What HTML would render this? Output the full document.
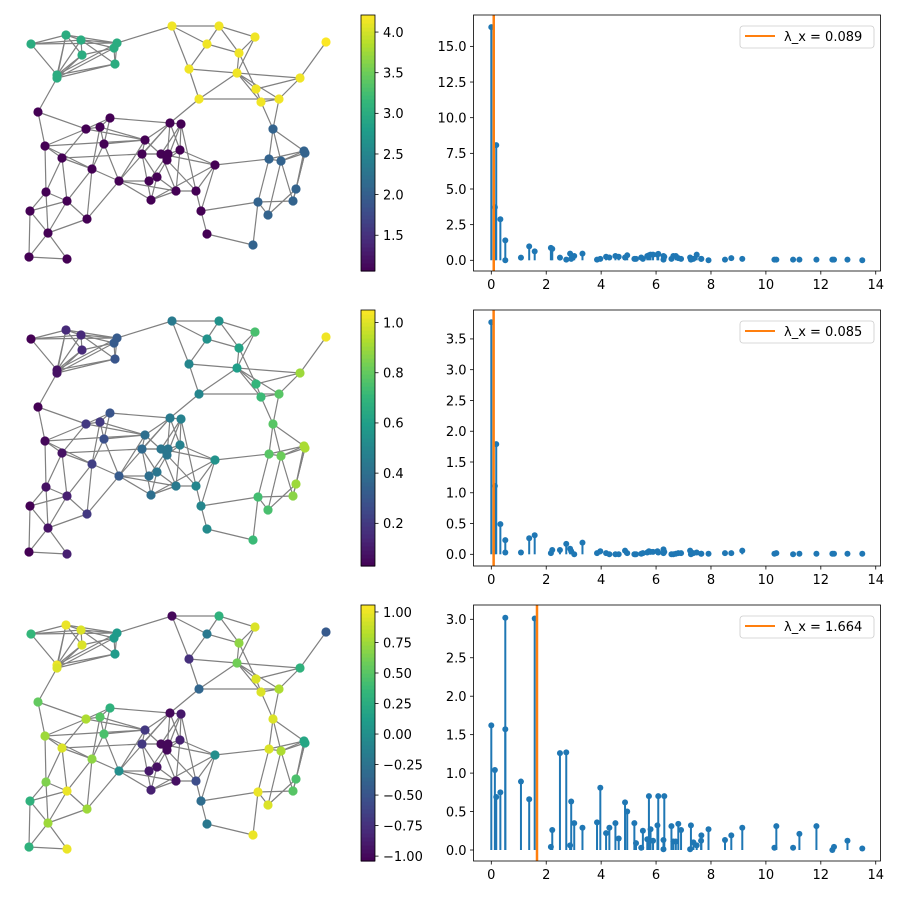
<!DOCTYPE html>
<html><head><meta charset="utf-8"><style>
body{margin:0;background:#fff}
svg text{font-family:"DejaVu Sans","Liberation Sans",sans-serif;font-size:13px;fill:#000}
</style></head><body>
<svg id="fig" width="900" height="900" xmlns="http://www.w3.org/2000/svg"></svg>
<script>
const nodeX=[31,66,81,82,117,114,115,57,57,172,219,255,207,239,326,189,237,300,256,261,279,199,273,304,305,269,281,296,293,258,268,253,38,110,86,100,170,181,45,104,145,180,142,161,168,167,62,215,92,157,149,119,176,196,46,67,151,30,201,87,48,207,29,67];
const nodeY=[44,35,40,55,43,48,64,75,78,26,26,37,44,53,42,69,73,78,89,102,99,99,129,151,153,159,161,189,201,202,215,245,112,118,129,127,123,124,146,144,140,150,154,154,154,160,158,165,169,177,181,181,191,191,192,201,200,211,211,219,233,234,257,259];
const edgeList=[[0,1],[0,2],[0,4],[0,7],[1,2],[1,3],[1,4],[1,7],[1,8],[2,3],[2,4],[2,5],[2,6],[2,7],[3,5],[3,7],[3,8],[4,6],[4,7],[5,6],[5,8],[6,7],[6,8],[4,5],[4,9],[8,32],
[9,10],[9,12],[9,15],[10,11],[10,12],[10,13],[11,13],[11,16],[12,13],[12,15],[13,16],[13,18],[15,16],[15,21],[16,17],[16,18],[16,19],[16,20],[17,14],[17,18],[17,20],[18,19],[19,20],[21,20],[21,16],[21,36],[19,22],[20,22],
[22,23],[22,25],[22,26],[23,25],[23,26],[23,27],[24,28],[25,26],[25,29],[26,28],[26,30],[27,28],[27,30],[28,29],[29,30],[29,31],[47,25],[58,29],[61,31],[24,26],[24,27],
[32,34],[32,38],[33,34],[33,36],[33,39],[33,35],[34,35],[34,38],[34,46],[34,40],[35,39],[35,40],[35,48],[36,37],[36,40],[36,41],[36,42],[36,45],[36,51],[37,41],[37,43],[37,45],[38,46],[38,48],[38,54],[38,40],[39,40],[39,48],[39,51],[40,42],[40,45],[40,51],[41,47],[41,52],[41,45],[42,43],[42,44],[42,49],[42,56],[43,44],[43,52],[43,47],[44,45],[44,50],[45,53],[45,49],[46,48],[46,54],[46,55],[46,42],[48,51],[48,55],[48,59],[49,50],[49,52],[49,56],[50,51],[51,56],[51,59],[51,52],[52,53],[52,56],[53,47],[53,58],[47,58],[47,56],[54,55],[54,57],[54,60],[55,59],[55,60],[55,57],[57,60],[57,62],[59,60],[60,62],[60,63],[62,63],[58,61],[44,41],[37,53]];
const signal1=[3,3,3,3,3,3,3,3,3,4.15,4.15,4.15,4.15,4.15,4.2,4.15,4.15,4.15,4.15,4.15,4.15,4.15,2.05,2.05,2.05,2.05,2.05,2.05,2.05,2.05,2.05,2.05,1.06,1.06,1.06,1.06,1.06,1.06,1.06,1.06,1.06,1.06,1.06,1.06,1.06,1.06,1.06,1.06,1.06,1.06,1.06,1.06,1.06,1.06,1.06,1.06,1.06,1.06,1.06,1.06,1.06,1.06,1.06,1.06];
const signal2=[0.03,0.15,0.15,0.15,0.32,0.32,0.3,0.08,0.08,0.45,0.55,0.75,0.55,0.62,1.03,0.5,0.6,0.9,0.7,0.72,0.78,0.5,0.78,0.92,0.92,0.78,0.82,0.9,0.87,0.74,0.75,0.72,0.03,0.3,0.2,0.2,0.45,0.48,0.05,0.28,0.4,0.48,0.38,0.43,0.43,0.43,0.08,0.55,0.22,0.43,0.4,0.32,0.45,0.5,0.08,0.12,0.4,0.03,0.5,0.2,0.08,0.52,0.03,0.12];
const signal3=[0.35,1,0.95,0.95,0.1,0.1,0.1,1,0.95,-1,0.3,0.95,-0.2,0.7,-0.45,-0.75,0.6,0.3,0.95,0.95,0.8,-0.35,0.95,0.2,0.2,0.95,0.8,0.45,0.5,1,0.95,1,0.55,0.3,0.8,0.5,-1,-0.9,0.75,0.45,-0.7,-0.85,-0.7,-1,-1,-1,0.95,0,0.7,-0.95,-0.9,0,-0.95,-0.55,0.65,1,-0.85,0.3,-0.3,0.75,0.75,-0.2,0.3,1];
const eigenvalues=[0,0.13,0.18,0.33,0.51,0.51,1.08,1.38,1.58,2.17,2.22,2.5,2.73,2.87,2.91,3.02,3.32,3.85,3.97,4.18,4.30,4.52,4.64,4.87,4.95,5.21,5.27,5.46,5.52,5.68,5.74,5.80,5.89,6.05,6.08,6.27,6.27,6.30,6.56,6.63,6.72,6.81,6.91,7.24,7.27,7.36,7.48,7.64,7.65,7.91,8.51,8.74,9.14,10.31,10.38,10.99,11.22,11.84,12.42,12.48,12.97,13.51];
const spectrum1=[16.35,3.72,8.08,2.88,1.4,0,0.19,0.98,0.63,0.87,0.8,0.19,0.05,0.47,0.1,0.3,0.47,0.05,0.1,0.25,0.2,0.3,0.25,0.2,0.35,0.1,0.1,0.2,0.1,0.3,0.35,0.4,0.4,0.4,0.45,0.05,0.3,0.25,0.1,0.3,0.3,0.15,0.1,0.2,0.05,0.1,0.4,0.1,0.1,0,0.05,0.15,0.1,0.05,0.05,0.05,0.05,0.05,0.05,0.05,0.05,0];
const spectrum2=[3.77,1.11,1.79,0.49,0.23,0.03,0.03,0.26,0.31,0.02,0.07,0.07,0.17,0.09,0.05,0,0.19,0.02,0.05,0.02,0,0,0,0.06,0.02,0,0,0.01,0.02,0.03,0.05,0.04,0.04,0.05,0.03,0.08,0.02,0.04,0,0,0.01,0.02,0.02,0.06,0,0.02,0.03,0.01,0.01,0.01,0.02,0.02,0.06,0.01,0.02,0,0.01,0.01,0.01,0.01,0.01,0.01];
const spectrum3=[1.62,1.04,0.69,0.75,3.02,1.57,0.89,0.66,3.01,0.04,0.26,1.26,1.27,0.06,0.63,0.35,0.29,0.36,0.81,0.22,0.29,0.35,0.15,0.62,0.5,0.35,0.09,0.03,0.25,0.14,0.7,0.27,0.12,0.32,0.7,0.01,0.13,0.7,0.31,0.11,0.11,0.34,0.26,0.01,0.32,0.1,0.06,0.12,0.19,0.27,0.13,0.19,0.29,0.03,0.31,0.03,0.21,0.31,0,0.04,0.12,0.02];
const lambdaX=[0.089,0.085,1.664];
const yTicks1=[0,2.5,5,7.5,10,12.5,15];
const yTicks2=[0,0.5,1,1.5,2,2.5,3,3.5];
const yTicks3=[0,0.5,1,1.5,2,2.5,3];
const xTicks=[0,2,4,6,8,10,12,14];
const cbTicks1=[1.5,2,2.5,3,3.5,4];
const cbTicks2=[0.2,0.4,0.6,0.8,1.0];
const cbTicks3=[-1,-0.75,-0.5,-0.25,0,0.25,0.5,0.75,1];

const NS="http://www.w3.org/2000/svg";
const fig=document.getElementById('fig');
function mk(tag,attrs,parent){const e=document.createElementNS(NS,tag);for(const k in attrs)e.setAttribute(k,attrs[k]);(parent||fig).appendChild(e);return e;}
const VIR=[[68,1,84],[72,40,120],[62,74,137],[49,104,142],[38,130,142],[31,158,137],[53,183,121],[109,205,89],[180,222,44],[253,231,37]];
function viridis(t){t=Math.max(0,Math.min(1,t));const p=t*(VIR.length-1);const i=Math.min(Math.floor(p),VIR.length-2);const f=p-i;const a=VIR[i],b=VIR[i+1];return `rgb(${Math.round(a[0]+(b[0]-a[0])*f)},${Math.round(a[1]+(b[1]-a[1])*f)},${Math.round(a[2]+(b[2]-a[2])*f)})`;}
const panels=[
 {sig:signal1,spec:spectrum1,lx:lambdaX[0],dy:0,cbMin:1.06,cbMax:4.21,cbT:cbTicks1,cbFmt:v=>v.toFixed(1),yMin:-0.75,yMax:17.2,yT:yTicks1,yFmt:v=>v.toFixed(1)},
 {sig:signal2,spec:spectrum2,lx:lambdaX[1],dy:295,cbMin:0.03,cbMax:1.05,cbT:cbTicks2,cbFmt:v=>v.toFixed(1),yMin:-0.19,yMax:3.97,yT:yTicks2,yFmt:v=>v.toFixed(1)},
 {sig:signal3,spec:spectrum3,lx:lambdaX[2],dy:590,cbMin:-1.04,cbMax:1.057,cbT:cbTicks3,cbFmt:v=>(v<0?'\u2212':'')+Math.abs(v).toFixed(2),yMin:-0.143,yMax:3.186,yT:yTicks3,yFmt:v=>v.toFixed(1)}
];
const AX_L=473.5,AX_R=880.5,X0=491.3,XU=27.46;
function xs(v){return X0+v*XU;}
panels.forEach((P,pi)=>{
  const top=15+pi*295,bot=271+pi*295;
  const g=mk('g',{});
  
  
  edgeList.forEach(e=>{
    const l=mk('line',{x1:nodeX[e[0]],y1:nodeY[e[0]]+P.dy,x2:nodeX[e[1]],y2:nodeY[e[1]]+P.dy,stroke:'#808080','stroke-width':1.2},g);
    
    
  });
  nodeX.forEach((x,i)=>{
    const c=mk('circle',{cx:x,cy:nodeY[i]+P.dy,r:4.6,fill:viridis((P.sig[i]-P.cbMin)/(P.cbMax-P.cbMin))},g);
    
    
  });
  const cb=mk('g',{});
  
  
  const N=64,h=(bot-top)/N;
  for(let k=0;k<N;k++){mk('rect',{x:361,y:bot-(k+1)*h,width:14,height:h+0.6,fill:viridis((k+0.5)/N)},cb);}
  mk('rect',{x:361,y:top,width:14,height:bot-top,fill:'none',stroke:'#000','stroke-width':0.8},cb);
  P.cbT.forEach(v=>{const y=bot-(v-P.cbMin)/(P.cbMax-P.cbMin)*(bot-top);
    mk('line',{x1:375,y1:y,x2:378.5,y2:y,stroke:'#000','stroke-width':0.8},cb);
    const t=mk('text',{x:383,y:y+4.8},cb);t.textContent=P.cbFmt(v);
    
    });
  const ax=mk('g',{});
  
  
  const ys=v=>bot-(v-P.yMin)/(P.yMax-P.yMin)*(bot-top);
  P.spec.forEach((v,i)=>{
    const x=xs(eigenvalues[i]);
    const s=mk('line',{x1:x,y1:ys(0),x2:x,y2:ys(v),stroke:'#1f77b4','stroke-width':2},ax);
    
    
    const m=mk('circle',{cx:x,cy:ys(v),r:3,fill:'#1f77b4'},ax);
    
    
  });
  const ol=mk('line',{x1:xs(P.lx),y1:top,x2:xs(P.lx),y2:bot,stroke:'#ff7f0e','stroke-width':2.5},ax);
  
  
  mk('rect',{x:AX_L,y:top,width:AX_R-AX_L,height:bot-top,fill:'none',stroke:'#000','stroke-width':0.8},ax);
  P.yT.forEach(v=>{const y=ys(v);mk('line',{x1:AX_L-3.5,y1:y,x2:AX_L,y2:y,stroke:'#000','stroke-width':0.8},ax);
    const t=mk('text',{x:AX_L-7,y:y+4.8,'text-anchor':'end'},ax);t.textContent=P.yFmt(v);
    
    });
  xTicks.forEach(v=>{const x=xs(v);mk('line',{x1:x,y1:bot,x2:x,y2:bot+3.5,stroke:'#000','stroke-width':0.8},ax);
    const t=mk('text',{x:x,y:bot+18,'text-anchor':'middle'},ax);t.textContent=String(v);
    
    });
  const lg=mk('g',{});
  
  
  mk('rect',{x:740,y:top+11,width:134,height:22,rx:3,fill:'#fff','fill-opacity':0.8,stroke:'#ccc','stroke-width':0.8},lg);
  mk('line',{x1:745,y1:top+21,x2:775,y2:top+21,stroke:'#ff7f0e','stroke-width':2},lg);
  const lt=mk('text',{x:784,y:top+26},lg);lt.textContent='\u03bb_x = '+P.lx.toFixed(3);
  
  
});
</script>
</body></html>
